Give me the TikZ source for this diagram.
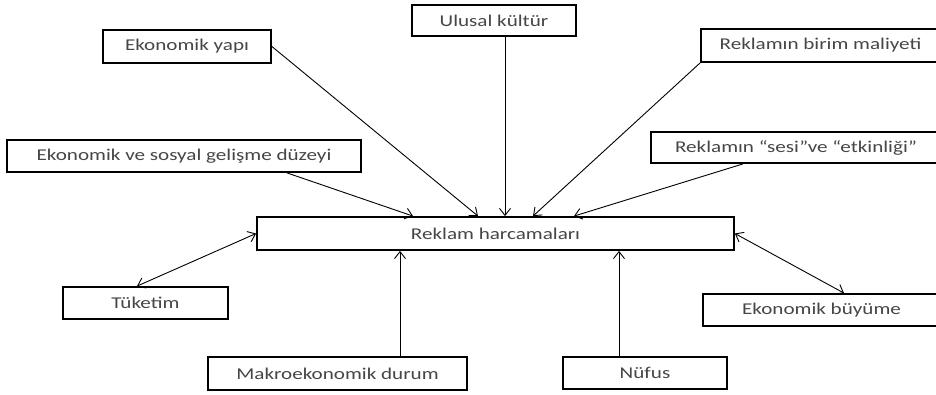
\documentclass[tikz,border=0pt]{standalone}
\usepackage{fontspec}
\setmainfont[FakeStretch=1.28]{Carlito}
\usepackage{xcolor}
\usepackage{tikz}
\usetikzlibrary{arrows.meta, positioning, calc}

\definecolor{txtgray}{RGB}{70,70,70}

\tikzset{
    factor/.style={draw, line width=1.8pt, text=txtgray, inner sep=0pt,
        font=\fontsize{16.5}{19}\selectfont},
    link/.style={line width=0.9pt, -{Straight Barb[length=7pt, width=11pt]}},
    twoway/.style={line width=0.9pt, {Straight Barb[length=7pt, width=11pt]}-{Straight Barb[length=7pt, width=11pt]}}
}

\begin{document}
\begin{tikzpicture}[x=1pt, y=-1pt]
    % Canvas
    \clip (0,0) rectangle (936,394);
    \fill[white] (0,0) rectangle (936,394);

    % Centre box
    \node[factor, minimum width=477pt, minimum height=33pt] (reklam) at (495.5,233.5) {Reklam harcamaları};

    % Factors above
    \node[factor, minimum width=164pt, minimum height=31pt] (ulusal) at (494,20.5) {Ulusal kültür};
    \node[factor, minimum width=168pt, minimum height=33pt] (ekyapi) at (187,46.5) {Ekonomik yapı};
    \node[factor, minimum width=239pt, minimum height=33pt] (birim) at (820.5,45.5) {Reklamın birim maliyeti};
    \node[factor, minimum width=354pt, minimum height=32pt] (sosyal) at (184,156) {Ekonomik ve sosyal gelişme düzeyi};
    \node[factor, minimum width=290pt, minimum height=31pt] (sesi) at (796,147.5) {Reklamın “sesi”ve “etkinliği”};

    % Factors below
    \node[factor, minimum width=165pt, minimum height=32pt] (tuketim) at (145.5,303) {Tüketim};
    \node[factor, minimum width=259pt, minimum height=33pt] (makro) at (337.5,373.5) {Makroekonomik durum};
    \node[factor, minimum width=164pt, minimum height=32pt] (nufus) at (645,373) {Nüfus};
    \node[factor, minimum width=237pt, minimum height=32pt] (buyume) at (821.5,310) {Ekonomik büyüme};

    % Arrows into the centre box
    \draw[link] (ekyapi.east) -- ([xshift=-17.5pt]reklam.north);
    \draw[link] ([xshift=11pt]ulusal.south) -- ([xshift=11pt]ulusal.south |- reklam.north);
    \draw[link] (birim.south west) -- ([xshift=37.5pt]reklam.north);
    \draw[link] ([xshift=-53pt]sesi.south) -- ([xshift=78.5pt]reklam.north);
    \draw[link] ([xshift=103pt]sosyal.south) -- ([xshift=-82.5pt]reklam.north);
    \draw[link] ([xshift=62.5pt]makro.north) -- ([xshift=62.5pt]makro.north |- reklam.south);
    \draw[link] ([xshift=-26pt]nufus.north) -- ([xshift=-26pt]nufus.north |- reklam.south);

    % Two-way arrows
    \draw[twoway] ([xshift=-8.5pt]tuketim.north) -- (reklam.west);
    \draw[twoway] (reklam.east) -- ([xshift=22.5pt]buyume.north);
\end{tikzpicture}
\end{document}
